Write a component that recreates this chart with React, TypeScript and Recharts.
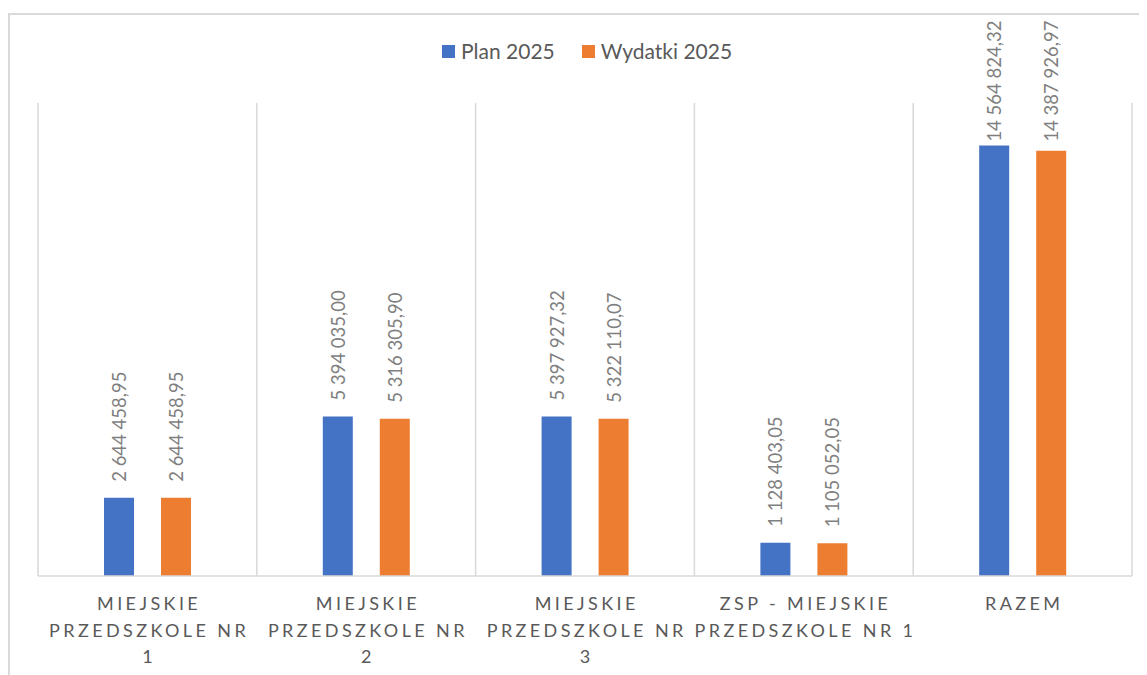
import React from "react";
import { BarChart, Bar, XAxis, YAxis, CartesianGrid, Legend, LabelList } from "recharts";

const categories = [
  "MIEJSKIE\nPRZEDSZKOLE NR\n1",
  "MIEJSKIE\nPRZEDSZKOLE NR\n2",
  "MIEJSKIE\nPRZEDSZKOLE NR\n3",
  "ZSP - MIEJSKIE\nPRZEDSZKOLE NR 1",
  "RAZEM",
];
const plan2025 = [2644458.95, 5394035.0, 5397927.32, 1128403.05, 14564824.32];
const wydatki2025 = [2644458.95, 5316305.9, 5322110.07, 1105052.05, 14387926.97];
const seriesNames = ["Plan 2025", "Wydatki 2025"];
const seriesColors = ["#4472C4", "#ED7D31"];
const yDomain = [0, 16000000];

const data = categories.map((c, i) => ({ name: c, plan: plan2025[i], wyd: wydatki2025[i] }));

const FONT = "Lato, 'Noto Sans', sans-serif";

function fmt(v: number): string {
  const fixed = v.toFixed(2);
  const [intPart, dec] = fixed.split(".");
  const withSp = intPart.replace(/\B(?=(\d{3})+(?!\d))/g, " ");
  return withSp + "," + dec;
}

const RotLabel = (props: any) => {
  const { x, y, width, value } = props;
  const str = fmt(Number(value));
  const cx = x + width / 2;
  const estLen = str.length * 9.2;
  const ty = Math.max(y - 16, 14 + estLen);
  return (
    <text
      x={cx}
      y={ty}
      transform={`rotate(-90 ${cx} ${ty})`}
      textAnchor="start"
      dominantBaseline="central"
      fill="#7f7f7f"
      fontSize={18.5}
      fontFamily={FONT}
    >
      {str}
    </text>
  );
};

const LS = 3.4;
const CatTick = (props: any) => {
  const { x, y, payload } = props;
  const lines = String(payload.value).split("\n");
  return (
    <g>
      {lines.map((ln, i) => (
        <text
          key={i}
          x={x + LS / 2}
          y={y + 34 + i * 26.5}
          textAnchor="middle"
          fill="#595959"
          fontSize={18}
          fontFamily={FONT}
          letterSpacing={LS}
        >
          {ln}
        </text>
      ))}
    </g>
  );
};

const LegendContent = () => (
  <div style={{ display: "flex", alignItems: "center", fontFamily: FONT, fontSize: 21, color: "#595959", whiteSpace: "nowrap", lineHeight: "26px" }}>
    {seriesNames.map((n, i) => (
      <div key={n} style={{ display: "flex", alignItems: "center", marginRight: i === 0 ? 27 : 0 }}>
        <div style={{ width: 13, height: 13, background: seriesColors[i], marginRight: 6 }} />
        <span>{n}</span>
      </div>
    ))}
  </div>
);

export default function App() {
  const W = 1139;
  const H = 667;
  return (
    <div style={{ position: "relative", width: W, height: H, overflow: "hidden" }}>
      <div
        style={{
          position: "absolute",
          left: 0,
          top: 5,
          width: W + 100,
          height: H + 100,
          borderLeft: "2px solid #d9d9d9",
          borderTop: "2px solid #d9d9d9",
          boxSizing: "border-box",
        }}
      />
      <div style={{ position: "absolute", left: 0, top: 0 }}>
        <BarChart
          width={W}
          height={H}
          data={data}
          margin={{ top: 95, right: 15, left: 30, bottom: 9 }}
          barSize={30}
          barGap={27}
        >
          <CartesianGrid
            horizontal={false}
            stroke="#d9d9d9"
            strokeWidth={1.5}
            verticalCoordinatesGenerator={({ offset }: any) =>
              categories.map((_, i) => offset.left + (i * offset.width) / categories.length).concat([offset.left + offset.width])
            }
          />
          <XAxis
            dataKey="name"
            axisLine={{ stroke: "#d9d9d9", strokeWidth: 1.5 }}
            tickLine={false}
            tickSize={0}
            tickMargin={0}
            height={90}
            interval={0}
            tick={<CatTick />}
          />
          <YAxis hide domain={yDomain} type="number" />
          <Legend
            layout="vertical"
            align="center"
            verticalAlign="middle"
            wrapperStyle={{ position: "absolute", top: 30, left: 434, width: "auto" }}
            content={<LegendContent />}
          />
          <Bar dataKey="plan" name={seriesNames[0]} fill={seriesColors[0]} isAnimationActive={false}>
            <LabelList dataKey="plan" content={<RotLabel />} />
          </Bar>
          <Bar dataKey="wyd" name={seriesNames[1]} fill={seriesColors[1]} isAnimationActive={false}>
            <LabelList dataKey="wyd" content={<RotLabel />} />
          </Bar>
        </BarChart>
      </div>
    </div>
  );
}
